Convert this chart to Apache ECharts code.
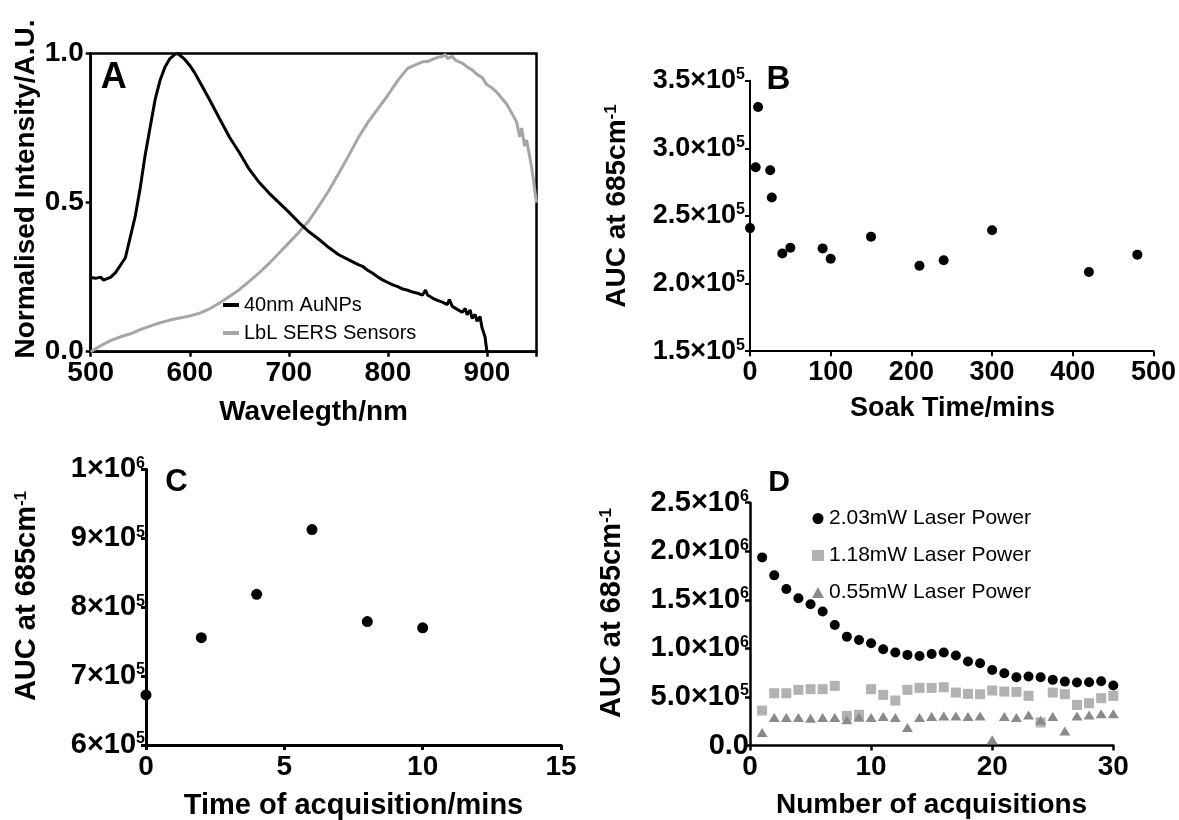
<!DOCTYPE html>
<html>
<head>
<meta charset="utf-8">
<script src="https://cdn.jsdelivr.net/npm/echarts@6/dist/echarts.min.js"></script>
<style>
html,body{margin:0;padding:0;background:#fff;}
#chart{width:1179px;height:820px;}
</style>
</head>
<body>
<div id="chart"></div>
<script>
// ---------- Panel A: normalised spectra ----------
const aAuX = [500,505,510,513,516,520,525,530,535,540,545,550,555,560,565,570,575,580,585,588,590,595,600,605,610,620,630,640,650,660,670,680,690,700,710,720,730,740,750,760,770,775,780,785,790,795,800,805,810,815,820,825,830,835,838,840,845,850,855,860,862,865,870,875,878,880,883,885,888,890,893,895,898,900];
const aAuY = [0.249,0.246,0.25,0.24,0.244,0.249,0.265,0.29,0.315,0.385,0.455,0.55,0.66,0.753,0.845,0.91,0.955,0.983,0.997,1.0,0.995,0.98,0.96,0.935,0.905,0.845,0.782,0.72,0.668,0.612,0.568,0.532,0.5,0.468,0.434,0.403,0.378,0.35,0.326,0.309,0.292,0.285,0.272,0.262,0.25,0.24,0.232,0.224,0.218,0.21,0.206,0.2,0.196,0.19,0.207,0.19,0.18,0.172,0.166,0.158,0.175,0.152,0.142,0.132,0.145,0.124,0.14,0.112,0.125,0.102,0.118,0.08,0.05,0.0];
const aLbLX = [500,510,520,530,540,550,560,570,580,590,600,610,620,630,640,650,660,670,680,690,700,710,720,730,740,750,760,770,780,790,800,805,810,815,820,825,830,835,840,845,850,855,858,860,865,868,870,875,880,885,890,895,900,905,910,915,920,925,930,933,935,938,940,945,950];
const aLbLY = [0,0.02,0.037,0.05,0.06,0.074,0.086,0.097,0.106,0.113,0.12,0.129,0.144,0.163,0.185,0.208,0.236,0.264,0.296,0.33,0.365,0.4,0.438,0.487,0.538,0.596,0.655,0.717,0.77,0.815,0.86,0.885,0.91,0.93,0.95,0.958,0.965,0.972,0.973,0.98,0.987,0.99,0.997,0.983,0.99,0.978,0.975,0.968,0.955,0.945,0.93,0.92,0.895,0.885,0.87,0.85,0.83,0.8,0.77,0.72,0.75,0.69,0.71,0.62,0.5];
const aXTicks = [500,600,700,800,900];
const aYTickLabels = {0:'0.0',0.5:'0.5',1:'1.0'};
const aSeriesNames = ['40nm AuNPs','LbL SERS Sensors'];

// ---------- Panel B: soak time ----------
const bSoak = [0,7,10,25,27,40,50,90,100,150,210,240,300,420,480];
const bAUC  = [241000,286000,330500,283800,263600,222300,226500,226000,218400,234700,213200,217200,239400,208500,221400];
const bYTickLabels = {150000:['1.5','5'],200000:['2.0','5'],250000:['2.5','5'],300000:['3.0','5'],350000:['3.5','5']};

// ---------- Panel C: time of acquisition ----------
const cTime = [0,2,4,6,8,10];
const cAUC  = [672600,755700,818600,912500,779000,770000];
const cYTickLabels = {600000:['6','5'],700000:['7','5'],800000:['8','5'],900000:['9','5'],1000000:['1','6']};

// ---------- Panel D: number of acquisitions ----------
const dAcq = [1,2,3,4,5,6,7,8,9,10,11,12,13,14,15,16,17,18,19,20,21,22,23,24,25,26,27,28,29,30];
const d203 = [1937000,1752000,1612000,1516000,1454000,1379000,1241000,1121000,1087000,1053000,991000,957000,933000,922000,943000,957000,926000,864000,847000,778000,744000,703000,710000,703000,676000,658000,648000,652000,662000,617000];
const d118 = [360000,538000,538000,573000,580000,580000,614000,305000,316000,580000,521000,463000,573000,593000,593000,600000,545000,532000,528000,566000,555000,552000,511000,237000,545000,528000,418000,435000,487000,511000];
const d055 = [134000,288000,288000,288000,281000,288000,288000,264000,290000,288000,298000,288000,185000,288000,298000,305000,305000,298000,305000,58000,298000,288000,315000,260000,298000,150000,305000,315000,326000,326000];
const dYTickLabels = {0:['0.0',''],500000:['5.0×10','5'],1000000:['1.0×10','6'],1500000:['1.5×10','6'],2000000:['2.0×10','6'],2500000:['2.5×10','6']};
const dSeriesNames = ['2.03mW Laser Power','1.18mW Laser Power','0.55mW Laser Power'];

// ---------- build ----------
const FONT = '"Liberation Sans", Arial, sans-serif';
const zip = (xs, ys) => xs.map((x, i) => [x, ys[i]]);

function supRich(mainSize, supSize, supPad) {
  return {
    m: {fontFamily: FONT, fontWeight: 'bold', fontSize: mainSize, color: '#000'},
    s: {fontFamily: FONT, fontWeight: 'bold', fontSize: supSize, color: '#000', padding: [0, 0, supPad, 0]}
  };
}
function axisLineStyle(w) {
  return {
    axisLine: {show: true, onZero: false, lineStyle: {color: '#000', width: w}},
    axisTick: {show: true, inside: false, length: 5, lineStyle: {color: '#000', width: w}},
    splitLine: {show: false}
  };
}

const chart = echarts.init(document.getElementById('chart'), null, {renderer: 'canvas'});

const option = {
  animation: false,
  backgroundColor: '#fff',
  grid: [
    {left: 90.7, top: 53.5, width: 445.8, height: 298.2, show: true, borderColor: '#000', borderWidth: 2.5, backgroundColor: 'transparent'},
    {left: 750, top: 80.7, width: 405, height: 270.5},
    {left: 146, top: 469.3, width: 415, height: 275.7},
    {left: 750, top: 502.7, width: 363.3, height: 242.8}
  ],
  xAxis: [
    Object.assign({gridIndex: 0, type: 'value', min: 500, max: 950, interval: 100,
      axisLabel: {margin: 8, fontFamily: FONT, fontWeight: 'bold', fontSize: 28, color: '#000',
        formatter: v => aXTicks.indexOf(v) >= 0 ? String(v) : ''}}, axisLineStyle(2.5)),
    Object.assign({gridIndex: 1, type: 'value', min: 0, max: 500, interval: 100,
      axisLabel: {margin: 8, fontFamily: FONT, fontWeight: 'bold', fontSize: 27, color: '#000'}}, axisLineStyle(2)),
    Object.assign({gridIndex: 2, type: 'value', min: 0, max: 15, interval: 5,
      axisLabel: {margin: 8, fontFamily: FONT, fontWeight: 'bold', fontSize: 28, color: '#000'}}, axisLineStyle(3)),
    Object.assign({gridIndex: 3, type: 'value', min: 0, max: 30, interval: 10,
      axisLabel: {margin: 8, fontFamily: FONT, fontWeight: 'bold', fontSize: 28, color: '#000'}}, axisLineStyle(2.5))
  ],
  yAxis: [
    Object.assign({gridIndex: 0, type: 'value', min: 0, max: 1, interval: 0.5,
      axisLabel: {margin: 7, fontFamily: FONT, fontWeight: 'bold', fontSize: 28, color: '#000',
        formatter: v => aYTickLabels[v] !== undefined ? aYTickLabels[v] : ''}}, axisLineStyle(2.5)),
    Object.assign({gridIndex: 1, type: 'value', min: 150000, max: 350000, interval: 50000,
      axisLabel: {margin: 5, rich: supRich(27, 16, 12),
        formatter: v => { const t = bYTickLabels[v]; return t ? '{m|' + t[0] + '×10}{s|' + t[1] + '}' : ''; }}}, axisLineStyle(2)),
    Object.assign({gridIndex: 2, type: 'value', min: 600000, max: 1000000, interval: 100000,
      axisLabel: {margin: 1, rich: supRich(29, 16, 12),
        formatter: v => { const t = cYTickLabels[v]; return t ? '{m|' + t[0] + '×10}{s|' + t[1] + '}' : ''; }}}, axisLineStyle(3)),
    Object.assign({gridIndex: 3, type: 'value', min: 0, max: 2500000, interval: 500000,
      axisLabel: {margin: 1, rich: supRich(29, 16, 12),
        formatter: v => { const t = dYTickLabels[v]; if (!t) return ''; return t[1] ? '{m|' + t[0] + '}{s|' + t[1] + '}' : '{m|' + t[0] + '}'; }}}, axisLineStyle(2.5))
  ],
  legend: [
    {data: [{name: aSeriesNames[0], icon: 'rect'}, {name: aSeriesNames[1], icon: 'rect'}],
     orient: 'vertical', left: 223, top: 295, itemWidth: 16, itemHeight: 4, itemGap: 8, padding: 0,
     selectedMode: false, textStyle: {fontFamily: FONT, fontSize: 20, color: '#000'}},
    {data: dSeriesNames, orient: 'vertical', left: 812, top: 508, itemWidth: 12, itemHeight: 11, itemGap: 16, padding: 0,
     selectedMode: false, textStyle: {fontFamily: FONT, fontSize: 21, color: '#000'}}
  ],
  series: [
    {name: aSeriesNames[1], type: 'line', xAxisIndex: 0, yAxisIndex: 0, data: zip(aLbLX, aLbLY),
     showSymbol: false, color: '#a6a6a6', lineStyle: {width: 3, color: '#a6a6a6'}},
    {name: aSeriesNames[0], type: 'line', xAxisIndex: 0, yAxisIndex: 0, data: zip(aAuX, aAuY),
     showSymbol: false, color: '#000', lineStyle: {width: 3, color: '#000'}},
    {name: 'B', type: 'scatter', xAxisIndex: 1, yAxisIndex: 1, data: zip(bSoak, bAUC),
     symbol: 'circle', symbolSize: 10, clip: false, itemStyle: {color: '#000', opacity: 1}},
    {name: 'C', type: 'scatter', xAxisIndex: 2, yAxisIndex: 2, data: zip(cTime, cAUC),
     symbol: 'circle', symbolSize: 11, clip: false, itemStyle: {color: '#000', opacity: 1}},
    {name: dSeriesNames[1], type: 'scatter', xAxisIndex: 3, yAxisIndex: 3, data: zip(dAcq, d118),
     symbol: 'rect', symbolSize: 10, clip: false, itemStyle: {color: '#b2b2b2', opacity: 1}},
    {name: dSeriesNames[2], type: 'scatter', xAxisIndex: 3, yAxisIndex: 3, data: zip(dAcq, d055),
     symbol: 'triangle', symbolSize: [11, 9], clip: false, itemStyle: {color: '#8a8a8a', opacity: 1}},
    {name: dSeriesNames[0], type: 'scatter', xAxisIndex: 3, yAxisIndex: 3, data: zip(dAcq, d203),
     symbol: 'circle', symbolSize: 10, clip: false, itemStyle: {color: '#000', opacity: 1}}
  ],
  graphic: [
    // panel letters
    {type: 'text', x: 113.7, y: 78, style: {text: 'A', font: 'bold 36px ' + FONT, fill: '#000', align: 'center', verticalAlign: 'middle'}},
    {type: 'text', x: 778.5, y: 80, style: {text: 'B', font: 'bold 33px ' + FONT, fill: '#000', align: 'center', verticalAlign: 'middle'}},
    {type: 'text', x: 176.5, y: 482.5, style: {text: 'C', font: 'bold 31px ' + FONT, fill: '#000', align: 'center', verticalAlign: 'middle'}},
    {type: 'text', x: 779, y: 483, style: {text: 'D', font: 'bold 30px ' + FONT, fill: '#000', align: 'center', verticalAlign: 'middle'}},
    // x titles
    {type: 'text', x: 313.6, y: 412, style: {text: 'Wavelegth/nm', font: 'bold 28px ' + FONT, fill: '#000', align: 'center', verticalAlign: 'middle'}},
    {type: 'text', x: 952.5, y: 409, style: {text: 'Soak Time/mins', font: 'bold 27px ' + FONT, fill: '#000', align: 'center', verticalAlign: 'middle'}},
    {type: 'text', x: 353.5, y: 806, style: {text: 'Time of acquisition/mins', font: 'bold 29px ' + FONT, fill: '#000', align: 'center', verticalAlign: 'middle'}},
    {type: 'text', x: 931.6, y: 805, style: {text: 'Number of acquisitions', font: 'bold 28px ' + FONT, fill: '#000', align: 'center', verticalAlign: 'middle'}},
    // y titles
    {type: 'text', x: 26, y: 189, rotation: Math.PI / 2, style: {text: 'Normalised Intensity/A.U.', font: 'bold 28px ' + FONT, fill: '#000', align: 'center', verticalAlign: 'middle'}},
    {type: 'text', x: 617, y: 206, rotation: Math.PI / 2, style: {text: '{m|AUC at 685cm}{s|-1}', align: 'center', verticalAlign: 'middle', rich: supRich(28, 17, 12)}},
    {type: 'text', x: 27, y: 596, rotation: Math.PI / 2, style: {text: '{m|AUC at 685cm}{s|-1}', align: 'center', verticalAlign: 'middle', rich: supRich(29, 17, 12)}},
    {type: 'text', x: 612, y: 613, rotation: Math.PI / 2, style: {text: '{m|AUC at 685cm}{s|-1}', align: 'center', verticalAlign: 'middle', rich: supRich(29, 17, 12)}}
  ]
};
chart.setOption(option);
</script>
</body>
</html>
